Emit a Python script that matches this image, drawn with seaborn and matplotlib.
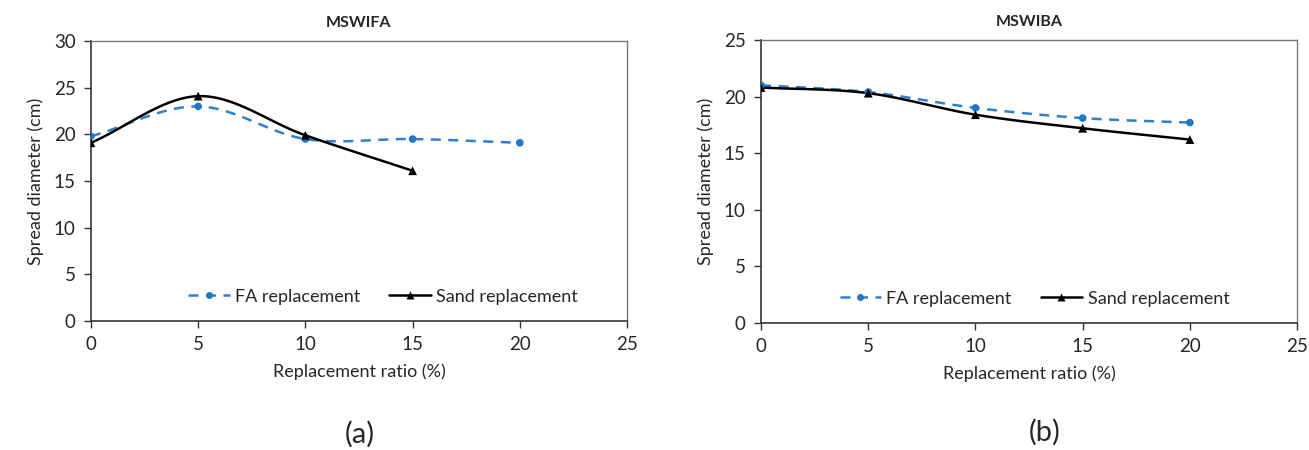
import numpy as np
import pandas as pd
import matplotlib
matplotlib.use("Agg")
import matplotlib.pyplot as plt
import seaborn as sns

# ---- data ----
ratio_a_fa = [0, 5, 10, 15, 20]
spread_a_fa = [19.8, 23.0, 19.5, 19.5, 19.1]
ratio_a_sand = [0, 5, 10, 15]
spread_a_sand = [19.1, 24.1, 19.9, 16.1]

ratio_b_fa = [0, 5, 10, 15, 20]
spread_b_fa = [21.0, 20.4, 19.0, 18.1, 17.7]
ratio_b_sand = [0, 5, 10, 15, 20]
spread_b_sand = [20.8, 20.3, 18.4, 17.2, 16.2]

titles = ["MSWIFA", "MSWIBA"]
panel_labels = ["(a)", "(b)"]
series_names = ["FA replacement", "Sand replacement"]

sns.set_theme(style="white")
plt.rcParams['font.family'] = ['Lato', 'DejaVu Sans']


def smooth(x, y, n=30):
    """Catmull-Rom style smoothing (like Excel's smoothed line) for drawing."""
    x = np.asarray(x, float); y = np.asarray(y, float)
    px = np.concatenate([[2 * x[0] - x[1]], x, [2 * x[-1] - x[-2]]])
    py = np.concatenate([[2 * y[0] - y[1]], y, [2 * y[-1] - y[-2]]])
    xs, ys = [], []
    t = np.linspace(0, 1, n)
    for i in range(1, len(px) - 2):
        p0, p1, p2, p3 = [np.array([px[j], py[j]]) for j in range(i - 1, i + 3)]
        c1 = p1 + (p2 - p0) / 6.0
        c2 = p2 - (p3 - p1) / 6.0
        pts = ((1 - t) ** 3)[:, None] * p1 + (3 * (1 - t) ** 2 * t)[:, None] * c1 \
            + (3 * (1 - t) * t ** 2)[:, None] * c2 + (t ** 3)[:, None] * p2
        xs.extend(pts[:, 0]); ys.extend(pts[:, 1])
    return np.array(xs), np.array(ys)


fig = plt.figure(figsize=(13.09, 4.5), dpi=100)
ax_a = fig.add_axes([0.0695, 0.2867, 0.4095, 0.622])
ax_b = fig.add_axes([0.5814, 0.2822, 0.4095, 0.629])

blue = "#2f7fd0"
panels = [
    (ax_a, ratio_a_fa, spread_a_fa, ratio_a_sand, spread_a_sand, 30, 0.545),
    (ax_b, ratio_b_fa, spread_b_fa, ratio_b_sand, spread_b_sand, 25, 0.51),
]

for k, (ax, xf, yf, xs_, ys_, ymax, lx) in enumerate(panels):
    sx, sy = smooth(xf, yf)
    sns.lineplot(x=sx, y=sy, ax=ax, color=blue, lw=1.8, linestyle=(0, (4, 3)),
                 sort=False, estimator=None)
    sns.scatterplot(x=xf, y=yf, ax=ax, color="#1f77c8", marker="o", s=30,
                    edgecolor="none", zorder=3)
    tx, ty = smooth(xs_, ys_)
    sns.lineplot(x=tx, y=ty, ax=ax, color="black", lw=1.8, sort=False, estimator=None)
    sns.scatterplot(x=xs_, y=ys_, ax=ax, color="black", marker="^", s=40,
                    edgecolor="none", zorder=3)

    # legend proxies
    h1, = ax.plot([], [], color=blue, lw=1.8, linestyle=(0, (4, 3)), marker="o",
                  markersize=5, markerfacecolor="#1f77c8", markeredgecolor="none")
    h2, = ax.plot([], [], color="black", lw=1.8, marker="^", markersize=6,
                  markeredgecolor="none")
    ax.legend([h1, h2], series_names, loc="lower center", bbox_to_anchor=(lx, 0.0),
              ncol=2, frameon=False, fontsize=13, handlelength=2.3,
              columnspacing=1.6, handletextpad=0.3)

    ax.set_xlim(0, 25)
    ax.set_ylim(0, ymax)
    ax.set_xticks([0, 5, 10, 15, 20, 25])
    ax.set_yticks(np.arange(0, ymax + 1, 5))
    ax.tick_params(axis="both", labelsize=13.5, direction="out", length=5,
                   width=1, color="#333333", pad=6, bottom=True, left=True)
    for side in ["left", "bottom"]:
        ax.spines[side].set_color("#333333")
        ax.spines[side].set_linewidth(1.2)
    for side in ["top", "right"]:
        ax.spines[side].set_color("#777777")
        ax.spines[side].set_linewidth(1.0)
    ax.set_xlabel("Replacement ratio (%)", fontsize=13, labelpad=7)
    ax.set_ylabel("Spread diameter (cm)", fontsize=13, labelpad=7)
    ax.set_title(titles[k], fontsize=11.5, fontweight="bold", pad=10)

fig.text(0.275, 0.035, panel_labels[0], fontsize=21, ha="center", va="center")
fig.text(0.798, 0.04, panel_labels[1], fontsize=21, ha="center", va="center")

fig.savefig("out.png", dpi=100, facecolor="white")
